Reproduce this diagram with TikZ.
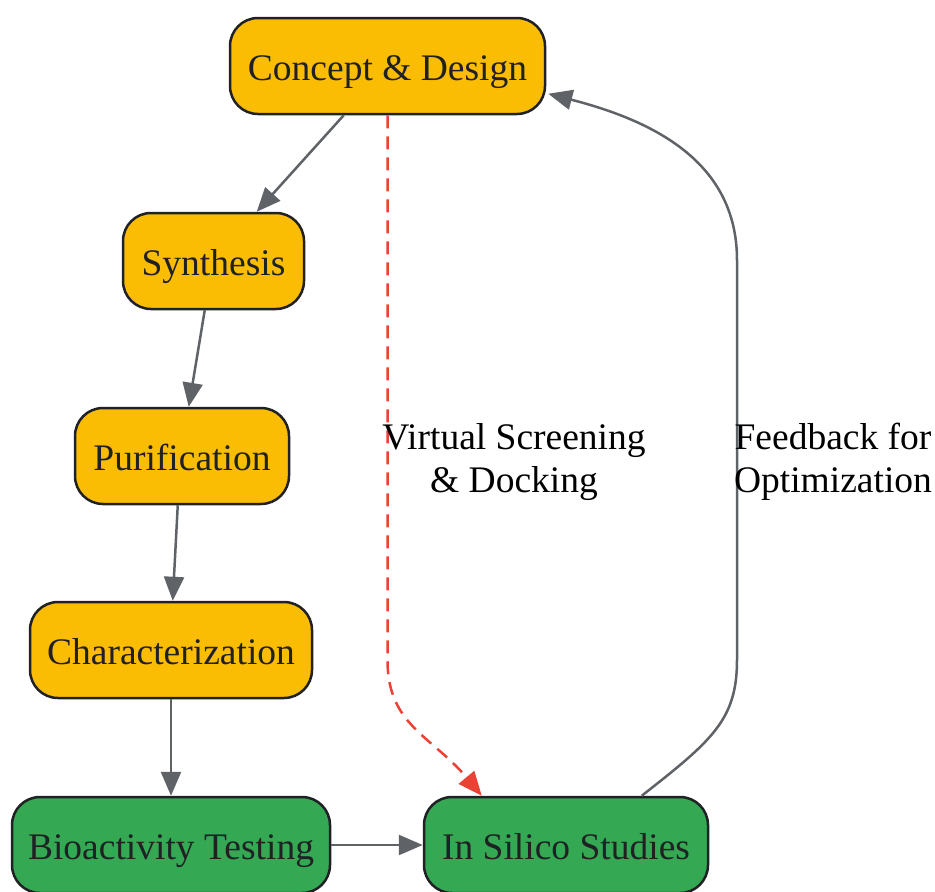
\documentclass[tikz,border=0pt]{standalone}
\usepackage{fontspec}
\setmainfont{Liberation Serif}
\usetikzlibrary{arrows.meta,calc}
\definecolor{gy}{HTML}{FBBC04}
\definecolor{gg}{HTML}{34A853}
\definecolor{gr}{HTML}{EA4335}
\definecolor{ga}{HTML}{5F6368}
\definecolor{gt}{HTML}{202124}
\tikzset{
  box/.style={draw=gt, line width=2.5pt, rounded corners=28pt, minimum height=96pt, inner sep=0pt, text=gt, text height=28pt, text depth=0pt, font=\fontsize{37.5}{44}\selectfont},
  ybox/.style={box, fill=gy},
  gbox/.style={box, fill=gg},
  conn/.style={draw=ga, line width=2.5pt, -{Triangle[length=24pt,width=20pt]}},
  dconn/.style={draw=gr, line width=2.5pt, dash pattern=on 13pt off 8pt, -{Triangle[length=24pt,width=20pt]}},
  lbl/.style={align=center, font=\fontsize{37.5}{43}\selectfont, text=black}
}
\begin{document}
\begin{tikzpicture}[x=1pt,y=-1pt]
\useasboundingbox (0,0) rectangle (935,892);
\node[ybox, minimum width=315pt] (concept) at (387.5,66) {Concept \& Design};
\node[ybox, minimum width=181pt] (synth) at (213.5,261) {Synthesis};
\node[ybox, minimum width=214pt] (purif) at (182,456) {Purification};
\node[ybox, minimum width=282pt] (charac) at (171,650) {Characterization};
\node[gbox, minimum width=318pt] (bio) at (171,845) {Bioactivity Testing};
\node[gbox, minimum width=284pt] (insilico) at (566,845) {In Silico Studies};
\coordinate (c1) at ($(concept.south west)+(115,0)$);
\coordinate (s1) at ($(synth.north west)+(135,0)$);
\draw[conn] (c1) -- (s1);
\coordinate (s2) at ($(synth.south west)+(83,0)$);
\coordinate (p1) at ($(purif.north west)+(115,0)$);
\draw[conn] (s2) -- (p1);
\coordinate (p2) at ($(purif.south west)+(104,0)$);
\coordinate (h1) at ($(charac.north west)+(144,0)$);
\draw[conn] (p2) -- (h1);
\draw[conn] (charac.south) -- (bio.north);
\draw[conn] (bio.east) -- (insilico.west);
\coordinate (i1) at ($(insilico.north west)+(59,0)$);
\draw[dconn] (concept.south) -- ($(concept.south)+(0,545)$) .. controls ($(concept.south)+(0,610)$) and ($(i1)+(-50,-60)$) .. (i1);
\coordinate (i2) at ($(insilico.north west)+(219,0)$);
\coordinate (ce) at ($(concept.north east)+(2,77)$);
\draw[conn] (i2) .. controls ($(i2)+(70,-55)$) and (737,720) .. (737,660) -- (737,260) .. controls (737,160) and (650,120) .. (ce);
\node[lbl] (l1) at (514,462) {Virtual Screening\\\& Docking};
\node[lbl] (l2) at (833,462) {Feedback for\\Optimization};
\end{tikzpicture}
\end{document}
